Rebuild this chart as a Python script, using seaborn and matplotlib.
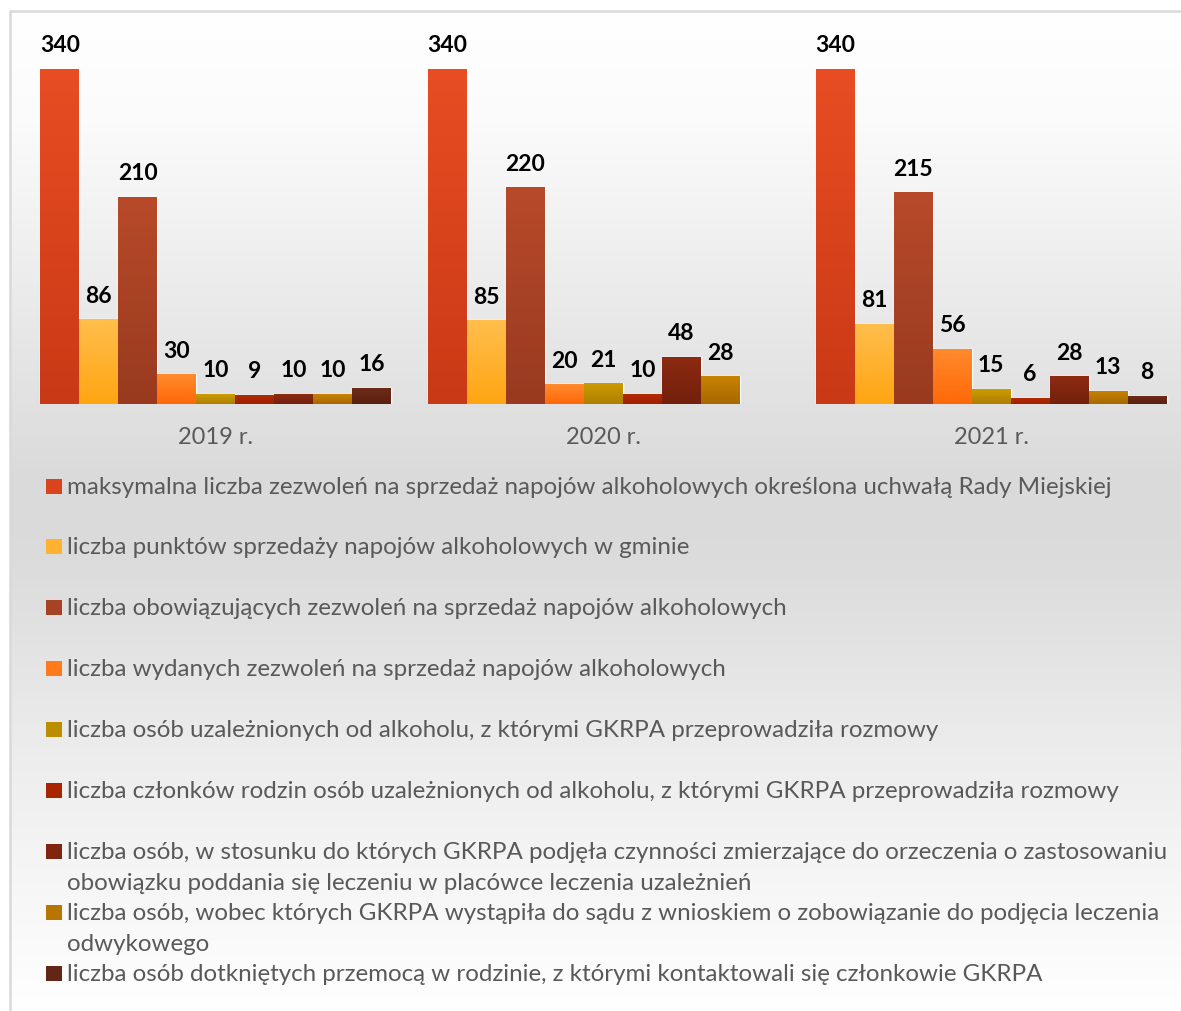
import numpy as np
import pandas as pd
import matplotlib
matplotlib.use("Agg")
import matplotlib.pyplot as plt
import seaborn as sns
from matplotlib.colors import LinearSegmentedColormap, to_rgb
from matplotlib.patches import Rectangle

# ---------------- data ----------------
years = ["2019 r.", "2020 r.", "2021 r."]
series = [
    "maksymalna liczba zezwoleń na sprzedaż napojów alkoholowych określona uchwałą Rady Miejskiej",
    "liczba punktów sprzedaży napojów alkoholowych w gminie",
    "liczba obowiązujących zezwoleń na sprzedaż napojów alkoholowych",
    "liczba wydanych zezwoleń na sprzedaż napojów alkoholowych",
    "liczba osób uzależnionych od alkoholu, z którymi GKRPA przeprowadziła rozmowy",
    "liczba członków rodzin osób uzależnionych od alkoholu, z którymi GKRPA przeprowadziła rozmowy",
    "liczba osób, w stosunku do których GKRPA podjęła czynności zmierzające do orzeczenia o zastosowaniu\nobowiązku poddania się leczeniu w placówce leczenia uzależnień",
    "liczba osób, wobec których GKRPA wystąpiła do sądu z wnioskiem o zobowiązanie do podjęcia leczenia\nodwykowego",
    "liczba osób dotkniętych przemocą w rodzinie, z którymi kontaktowali się członkowie GKRPA",
]
v_max_permits = [340, 340, 340]
v_sale_points = [86, 85, 81]
v_valid_permits = [210, 220, 215]
v_issued_permits = [30, 20, 56]
v_addicted_talks = [10, 21, 15]
v_family_talks = [9, 10, 6]
v_treatment_actions = [10, 48, 28]
v_court_requests = [10, 28, 13]
v_violence_contacts = [16, np.nan, 8]
values = [v_max_permits, v_sale_points, v_valid_permits, v_issued_permits,
          v_addicted_talks, v_family_talks, v_treatment_actions,
          v_court_requests, v_violence_contacts]

# gradient colours (top, bottom) per series
top_colors = ["#E84D23", "#FFBE4D", "#B84A2A", "#FF8B2E", "#CC9C00",
              "#B22C00", "#8E2B12", "#C98200", "#6E2B18"]
bottom_colors = ["#C93916", "#FFA512", "#983A1F", "#FF6808", "#AE7E00",
                 "#A01E00", "#72200D", "#A66800", "#5A200F"]

rows = []
for s, vals in zip(series, values):
    for y, v in zip(years, vals):
        rows.append({"year": y, "series": s, "value": v})
df = pd.DataFrame(rows).dropna()

def mix(a, b):
    a, b = np.array(to_rgb(a)), np.array(to_rgb(b))
    return tuple((a + b) / 2)

mid_colors = [mix(a, b) for a, b in zip(top_colors, bottom_colors)]

# ---------------- figure ----------------
sns.set_style("white")
plt.rcParams["font.family"] = ["Lato", "DejaVu Sans"]

W, H = 1181, 1012
fig = plt.figure(figsize=(W / 100, H / 100), dpi=100)
fig.patch.set_facecolor("white")

bg = fig.add_axes([0, 0, 1, 1], zorder=0)
bg.set_xlim(0, W)
bg.set_ylim(H, 0)
bg.axis("off")
ys = np.linspace(12, H, 600)
stop_y = [12, 120, 480, 560, 760, 1012]
stop_v = [1.0, 0.985, 0.855, 0.86, 0.93, 1.0]
g = np.interp(ys, stop_y, stop_v)
img = np.dstack([np.repeat(g[:, None], 2, axis=1)] * 3)
bg.imshow(img, extent=[10, W, H, 12], aspect="auto", interpolation="bilinear")
bg.plot([10, 10], [11, H], color="#D9D9D9", lw=1.8, solid_capstyle="butt")
bg.plot([10, W], [12, 12], color="#D9D9D9", lw=1.8, solid_capstyle="butt")
bg.set_xlim(0, W)
bg.set_ylim(H, 0)

ax = fig.add_axes([22 / W, 1 - 405 / H, 1163 / W, 384 / H], zorder=2)
ax.patch.set_alpha(0)
sns.barplot(data=df, x="year", y="value", hue="series", order=years,
            hue_order=series, palette=mid_colors, width=0.905, gap=0,
            saturation=1, legend=False, errorbar=None, ax=ax)

for hi, cont in enumerate(ax.containers):
    cmap = LinearSegmentedColormap.from_list(f"g{hi}", [top_colors[hi], bottom_colors[hi]])
    for bar in cont:
        x0, w, h = bar.get_x(), bar.get_width(), bar.get_height()
        if not np.isfinite(h) or h <= 0:
            continue
        grad = np.linspace(0, 1, 256)[:, None]
        im = ax.imshow(grad, cmap=cmap, extent=[x0, x0 + w, 0, h], aspect="auto",
                       origin="upper", interpolation="bilinear",
                       zorder=bar.get_zorder() + 0.1)
        im.set_clip_path(bar)
        ax.annotate(f"{h:.0f}", (x0 + w / 2, h), xytext=(0, 17.5),
                    textcoords="offset points", ha="center", va="center",
                    fontsize=16.5, fontweight="bold", color="black",
                    family=["Lato", "DejaVu Sans"], zorder=5)

ax.set_xlim(-0.5, 2.5)
ax.set_ylim(0, 390)
ax.set_xlabel("")
ax.set_ylabel("")
ax.set_yticks([])
for sp in ax.spines.values():
    sp.set_visible(False)
ax.tick_params(axis="x", length=0, pad=15.5, labelsize=17, labelcolor="#595959")

# ---------------- legend ----------------
leg_y0, leg_step, line_step = 487, 60.9, 31
for i, label in enumerate(series):
    yc = leg_y0 + i * leg_step
    bg.add_patch(Rectangle((46, yc - 7.5), 16, 15, facecolor=mid_colors[i],
                           edgecolor="none"))
    for j, line in enumerate(label.split("\n")):
        bg.text(67, yc + 6.5 + j * line_step, line, ha="left", va="baseline",
                fontsize=17.4, color="#595959", clip_on=False)

fig.savefig("out.png", dpi=100, facecolor="white")
